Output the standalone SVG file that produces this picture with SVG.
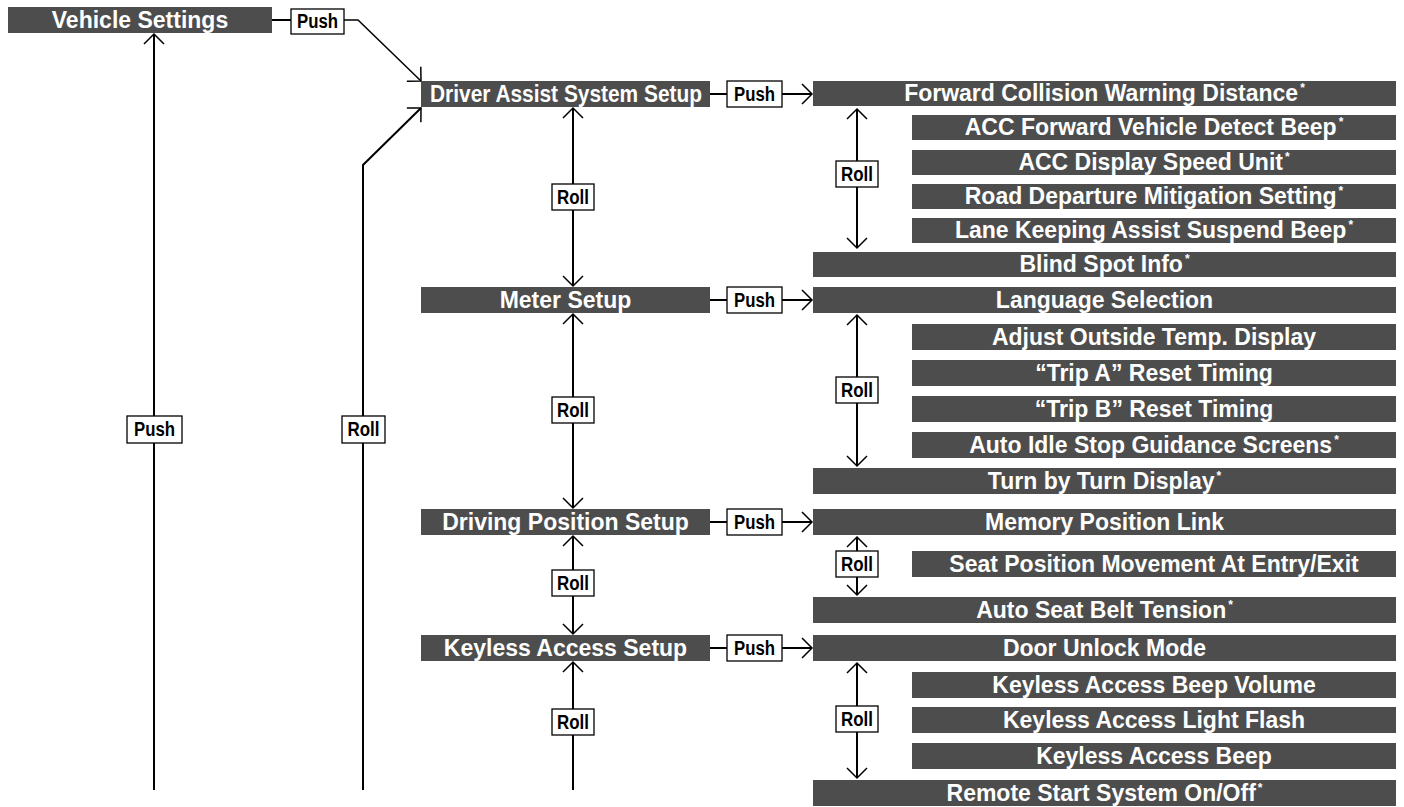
<svg xmlns="http://www.w3.org/2000/svg" width="1404" height="807" viewBox="0 0 1404 807">
<style>
.bar{fill:#4d4d4d}
.bt{font-family:"Liberation Sans",Arial,sans-serif;font-weight:bold;font-size:23px;fill:#fff;text-anchor:middle}
.sup{font-size:12px}
.lb{fill:#fff;stroke:#000;stroke-width:1.3}
.lt{font-family:"Liberation Sans",Arial,sans-serif;font-weight:bold;font-size:20px;fill:#000;text-anchor:middle}
.ln{fill:none;stroke:#000;stroke-width:2}
.dg{fill:none;stroke:#000;stroke-width:1.5}
</style>
<defs>
<marker id="ah" markerUnits="userSpaceOnUse" markerWidth="30" markerHeight="30" viewBox="-15 -15 30 30" refX="0" refY="0" orient="auto-start-reverse" overflow="visible">
<path d="M-10,-10 L0,0 L-10,10" fill="none" stroke="#000" stroke-width="1.5"/>
</marker>
</defs>

<g id="connectors">
<line class="ln" x1="272" y1="20" x2="291" y2="20"/>
<polyline class="dg" points="344,20 358,20 421,81" marker-end="url(#ah)"/>
<line class="ln" x1="154" y1="790" x2="154" y2="34" marker-end="url(#ah)"/>
<polyline class="ln" points="363,790 363,165 421,108" marker-end="url(#ah)"/>
<line class="ln" x1="710" y1="94" x2="727" y2="94"/>
<line class="ln" x1="782" y1="94" x2="812" y2="94" marker-end="url(#ah)"/>
<line class="ln" x1="710" y1="300" x2="727" y2="300"/>
<line class="ln" x1="782" y1="300" x2="812" y2="300" marker-end="url(#ah)"/>
<line class="ln" x1="710" y1="522" x2="727" y2="522"/>
<line class="ln" x1="782" y1="522" x2="812" y2="522" marker-end="url(#ah)"/>
<line class="ln" x1="710" y1="648" x2="727" y2="648"/>
<line class="ln" x1="782" y1="648" x2="812" y2="648" marker-end="url(#ah)"/>
<line class="ln" x1="573" y1="108" x2="573" y2="286" marker-start="url(#ah)" marker-end="url(#ah)"/>
<line class="ln" x1="573" y1="314" x2="573" y2="508" marker-start="url(#ah)" marker-end="url(#ah)"/>
<line class="ln" x1="573" y1="536" x2="573" y2="634" marker-start="url(#ah)" marker-end="url(#ah)"/>
<line class="ln" x1="573" y1="790" x2="573" y2="662" marker-end="url(#ah)"/>
<line class="ln" x1="857" y1="109" x2="857" y2="248" marker-start="url(#ah)" marker-end="url(#ah)"/>
<line class="ln" x1="857" y1="315" x2="857" y2="466" marker-start="url(#ah)" marker-end="url(#ah)"/>
<line class="ln" x1="857" y1="537" x2="857" y2="595" marker-start="url(#ah)" marker-end="url(#ah)"/>
<line class="ln" x1="857" y1="663" x2="857" y2="778" marker-start="url(#ah)" marker-end="url(#ah)"/>
</g>

<g id="labels">
<rect class="lb" x="291" y="9" width="53" height="25"/><text class="lt" x="317.5" y="28" textLength="41" lengthAdjust="spacingAndGlyphs">Push</text>
<rect class="lb" x="127" y="416" width="55" height="27"/><text class="lt" x="154.5" y="436" textLength="41" lengthAdjust="spacingAndGlyphs">Push</text>
<rect class="lb" x="342" y="416" width="43" height="27"/><text class="lt" x="363.5" y="436" textLength="32" lengthAdjust="spacingAndGlyphs">Roll</text>
<rect class="lb" x="727" y="81" width="55" height="26"/><text class="lt" x="754.5" y="101" textLength="41" lengthAdjust="spacingAndGlyphs">Push</text>
<rect class="lb" x="727" y="287" width="55" height="26"/><text class="lt" x="754.5" y="307" textLength="41" lengthAdjust="spacingAndGlyphs">Push</text>
<rect class="lb" x="727" y="509" width="55" height="26"/><text class="lt" x="754.5" y="529" textLength="41" lengthAdjust="spacingAndGlyphs">Push</text>
<rect class="lb" x="727" y="635" width="55" height="26"/><text class="lt" x="754.5" y="655" textLength="41" lengthAdjust="spacingAndGlyphs">Push</text>
<rect class="lb" x="552" y="184" width="42" height="26"/><text class="lt" x="573" y="204" textLength="32" lengthAdjust="spacingAndGlyphs">Roll</text>
<rect class="lb" x="552" y="397" width="42" height="26"/><text class="lt" x="573" y="417" textLength="32" lengthAdjust="spacingAndGlyphs">Roll</text>
<rect class="lb" x="552" y="570" width="42" height="26"/><text class="lt" x="573" y="590" textLength="32" lengthAdjust="spacingAndGlyphs">Roll</text>
<rect class="lb" x="552" y="709" width="42" height="26"/><text class="lt" x="573" y="729" textLength="32" lengthAdjust="spacingAndGlyphs">Roll</text>
<rect class="lb" x="836" y="161" width="42" height="26"/><text class="lt" x="857" y="181" textLength="32" lengthAdjust="spacingAndGlyphs">Roll</text>
<rect class="lb" x="836" y="377" width="42" height="26"/><text class="lt" x="857" y="397" textLength="32" lengthAdjust="spacingAndGlyphs">Roll</text>
<rect class="lb" x="836" y="551" width="42" height="26"/><text class="lt" x="857" y="571" textLength="32" lengthAdjust="spacingAndGlyphs">Roll</text>
<rect class="lb" x="836" y="706" width="42" height="26"/><text class="lt" x="857" y="726" textLength="32" lengthAdjust="spacingAndGlyphs">Roll</text>
</g>

<g id="vehicle-settings"><rect class="bar" x="8" y="7" width="264" height="26"/><text class="bt" x="140" y="27.5">Vehicle Settings</text></g>

<g id="driver-assist"><rect class="bar" x="421" y="81" width="289" height="26"/><text class="bt" x="566" y="101.5" textLength="272" lengthAdjust="spacingAndGlyphs">Driver Assist System Setup</text></g>
<g id="meter-setup"><rect class="bar" x="421" y="287" width="289" height="26"/><text class="bt" x="565.5" y="307.5">Meter Setup</text></g>
<g id="driving-position"><rect class="bar" x="421" y="509" width="289" height="26"/><text class="bt" x="565.5" y="529.5">Driving Position Setup</text></g>
<g id="keyless-access"><rect class="bar" x="421" y="635" width="289" height="26"/><text class="bt" x="565.5" y="655.5">Keyless Access Setup</text></g>

<g id="fcw"><rect class="bar" x="813" y="81" width="583" height="25"/><text class="bt" x="1104.5" y="101">Forward Collision Warning Distance<tspan class="sup" dx="2" dy="-9">*</tspan></text></g>
<g id="acc-beep"><rect class="bar" x="912" y="115" width="484" height="25"/><text class="bt" x="1154" y="135">ACC Forward Vehicle Detect Beep<tspan class="sup" dx="2" dy="-9">*</tspan></text></g>
<g id="acc-unit"><rect class="bar" x="912" y="150" width="484" height="25"/><text class="bt" x="1154" y="170">ACC Display Speed Unit<tspan class="sup" dx="2" dy="-9">*</tspan></text></g>
<g id="rdm"><rect class="bar" x="912" y="184" width="484" height="25"/><text class="bt" x="1154" y="204">Road Departure Mitigation Setting<tspan class="sup" dx="2" dy="-9">*</tspan></text></g>
<g id="lka"><rect class="bar" x="912" y="218" width="484" height="25"/><text class="bt" x="1154" y="238">Lane Keeping Assist Suspend Beep<tspan class="sup" dx="2" dy="-9">*</tspan></text></g>
<g id="blind-spot"><rect class="bar" x="813" y="252" width="583" height="25"/><text class="bt" x="1104.5" y="272">Blind Spot Info<tspan class="sup" dx="2" dy="-9">*</tspan></text></g>

<g id="language"><rect class="bar" x="813" y="287" width="583" height="26"/><text class="bt" x="1104.5" y="307.5">Language Selection</text></g>
<g id="outside-temp"><rect class="bar" x="912" y="324" width="484" height="26"/><text class="bt" x="1154" y="344.5">Adjust Outside Temp. Display</text></g>
<g id="trip-a"><rect class="bar" x="912" y="360" width="484" height="26"/><text class="bt" x="1154" y="380.5">“Trip A” Reset Timing</text></g>
<g id="trip-b"><rect class="bar" x="912" y="396" width="484" height="26"/><text class="bt" x="1154" y="416.5">“Trip B” Reset Timing</text></g>
<g id="idle-stop"><rect class="bar" x="912" y="432" width="484" height="26"/><text class="bt" x="1154" y="452.5">Auto Idle Stop Guidance Screens<tspan class="sup" dx="2" dy="-9">*</tspan></text></g>
<g id="turn-by-turn"><rect class="bar" x="813" y="468" width="583" height="26"/><text class="bt" x="1104.5" y="488.5">Turn by Turn Display<tspan class="sup" dx="2" dy="-9">*</tspan></text></g>

<g id="memory-link"><rect class="bar" x="813" y="509" width="583" height="26"/><text class="bt" x="1104.5" y="529.5">Memory Position Link</text></g>
<g id="seat-movement"><rect class="bar" x="912" y="551" width="484" height="26"/><text class="bt" x="1154" y="571.5">Seat Position Movement At Entry/Exit</text></g>
<g id="belt-tension"><rect class="bar" x="813" y="597" width="583" height="26"/><text class="bt" x="1104.5" y="617.5">Auto Seat Belt Tension<tspan class="sup" dx="2" dy="-9">*</tspan></text></g>

<g id="door-unlock"><rect class="bar" x="813" y="635" width="583" height="26"/><text class="bt" x="1104.5" y="655.5">Door Unlock Mode</text></g>
<g id="beep-volume"><rect class="bar" x="912" y="672" width="484" height="26"/><text class="bt" x="1154" y="692.5">Keyless Access Beep Volume</text></g>
<g id="light-flash"><rect class="bar" x="912" y="707" width="484" height="26"/><text class="bt" x="1154" y="727.5">Keyless Access Light Flash</text></g>
<g id="access-beep"><rect class="bar" x="912" y="743" width="484" height="26"/><text class="bt" x="1154" y="763.5">Keyless Access Beep</text></g>
<g id="remote-start"><rect class="bar" x="813" y="780" width="583" height="26"/><text class="bt" x="1104.5" y="800.5">Remote Start System On/Off<tspan class="sup" dx="2" dy="-9">*</tspan></text></g>
</svg>
